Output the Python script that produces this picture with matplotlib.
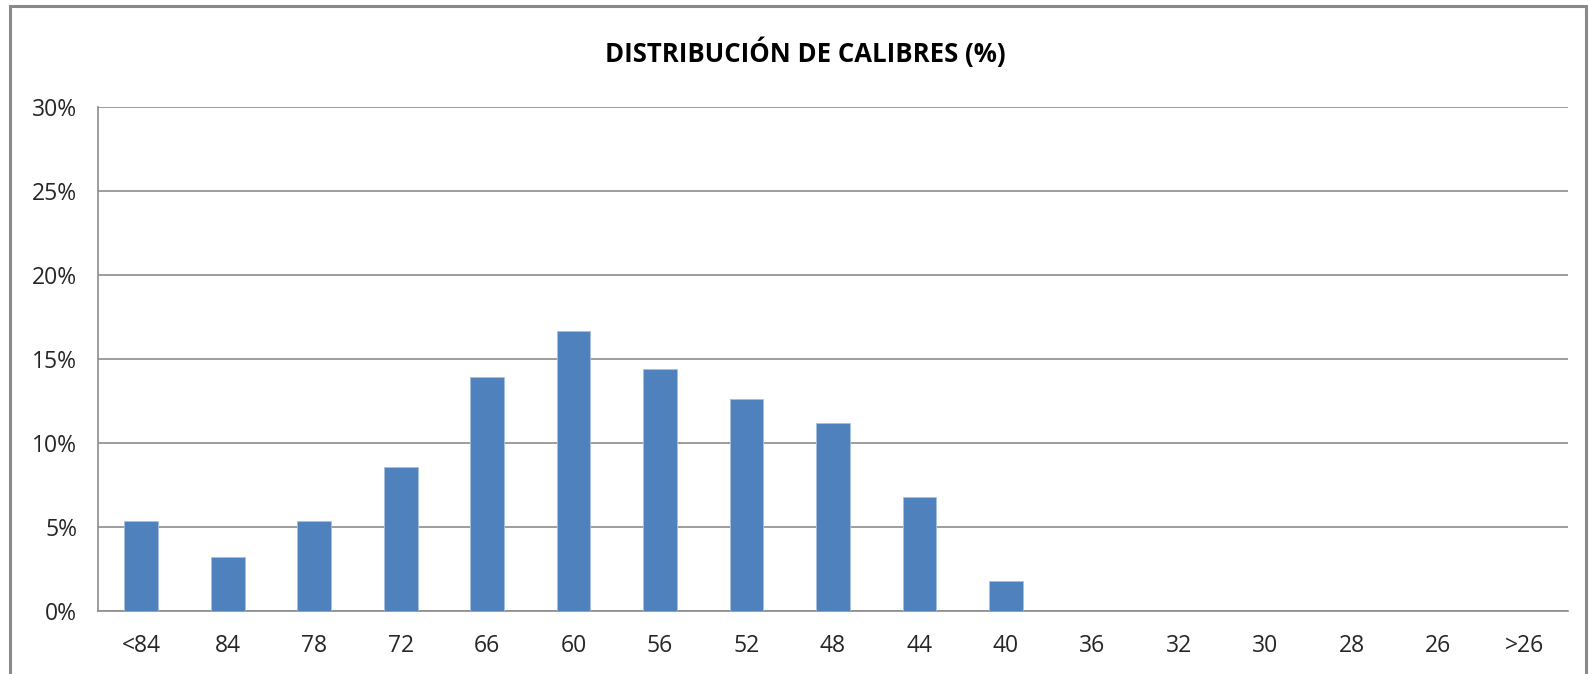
import matplotlib
matplotlib.use("Agg")
import matplotlib.pyplot as plt
from matplotlib.patches import Rectangle
from matplotlib.ticker import FuncFormatter

categories = ["<84", "84", "78", "72", "66", "60", "56", "52", "48", "44", "40",
              "36", "32", "30", "28", "26", ">26"]
values = [5.39, 3.21, 5.39, 8.57, 13.96, 16.68, 14.40, 12.60, 11.23, 6.77, 1.82,
          0, 0, 0, 0, 0, 0]
yticks = [0, 5, 10, 15, 20, 25, 30]
title = "DISTRIBUCIÓN DE CALIBRES (%)"

plt.rcParams['font.family'] = ['Open Sans', 'DejaVu Sans']

W, H = 1589, 674
fig = plt.figure(figsize=(W / 100, H / 100), dpi=100)
ax = fig.add_axes([98 / W, 1 - 611.3 / H, (1568 - 98) / W, (611.3 - 107) / H])

x = range(len(categories))
ax.bar(x, values, width=0.39, color="#4F81BD", edgecolor="#A7C0DE", linewidth=0.6, zorder=3)

ax.set_xlim(-0.5, len(categories) - 0.5)
ax.set_ylim(0, 30)
ax.set_yticks(yticks)
ax.yaxis.set_major_formatter(FuncFormatter(lambda v, p: f"{v:.0f}%"))
ax.set_xticks(list(x))
ax.set_xticklabels(categories)
ax.grid(axis="y", color="#8C8C8C", linewidth=1.2, zorder=0)
ax.tick_params(axis="both", length=0, labelsize=16.5, colors="#000000", labelcolor="#262626")
ax.tick_params(axis="y", pad=15)
ax.tick_params(axis="x", pad=16)
for s in ["top", "right"]:
    ax.spines[s].set_visible(False)
for s in ["left", "bottom"]:
    ax.spines[s].set_color("#8C8C8C")
    ax.spines[s].set_linewidth(1.2)

fig.text(805 / W, 1 - 53 / H, title, ha="center", va="center", fontsize=18.5,
         fontweight="bold", color="#000000")

frame = Rectangle((10 / W, -0.05), (1586 - 10) / W, 1 - 6 / H + 0.05,
                  transform=fig.transFigure, fill=False, edgecolor="#8A8A8A",
                  linewidth=2.2, zorder=10)
fig.patches.append(frame)

fig.savefig("out.png", dpi=100)
